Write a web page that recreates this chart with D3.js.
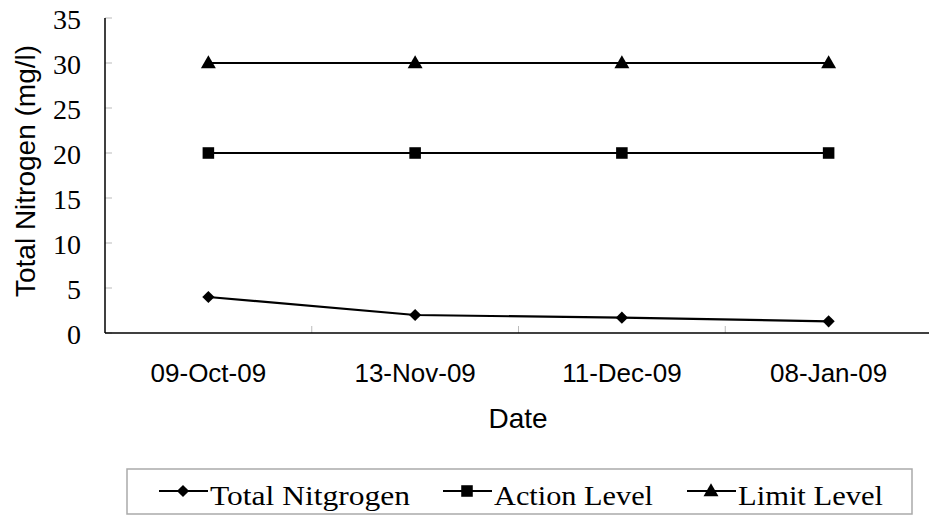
<!DOCTYPE html>
<html>
<head>
    <title>Total Nitrogen</title>
    <script src="https://d3js.org/d3.v7.min.js"></script>
    <style>
        body { margin: 0; padding: 0; background: #fff; }
        svg { display: block; }
        .ytick text { font-family: 'Liberation Serif', 'Times New Roman', serif; font-size: 28px; }
        .xlab { font-family: 'Liberation Sans', Arial, sans-serif; font-size: 26px; }
        .title { font-family: 'Liberation Sans', Arial, sans-serif; font-size: 28px; }
        .legend text { font-family: 'Liberation Serif', serif; font-size: 27px; }
    </style>
</head>
<body>
    <svg id="chart" width="929" height="520"></svg>
    <script>
        // data
        const dates = ["09-Oct-09", "13-Nov-09", "11-Dec-09", "08-Jan-09"];
        const totalNitrogen = [4.0, 2.0, 1.7, 1.3];
        const actionLevel = [20, 20, 20, 20];
        const limitLevel = [30, 30, 30, 30];
        const yTicks = [0, 5, 10, 15, 20, 25, 30, 35];
        const seriesNames = ["Total Nitgrogen", "Action Level", "Limit Level"];

        const svg = d3.select("#chart");
        const pLeft = 105, pRight = 932, pTop = 18, pBottom = 333;

        const x = d3.scaleBand().domain(dates).range([pLeft, pRight]);
        const y = d3.scaleLinear().domain([0, 35]).range([pBottom, pTop]);

        // y ticks (grey, inward) and labels
        const yt = svg.selectAll(".ytick").data(yTicks).enter().append("g").attr("class", "ytick");
        yt.append("line")
            .attr("x1", pLeft).attr("x2", pLeft + 7)
            .attr("y1", d => y(d)).attr("y2", d => y(d))
            .attr("stroke", "#bbb").attr("stroke-width", 1);
        yt.append("text")
            .attr("x", 81).attr("y", d => y(d) + 11)
            .attr("text-anchor", "end")
            .text(d => d);

        // x ticks at category boundaries
        svg.selectAll(".xtick").data(dates.slice(1)).enter().append("line")
            .attr("x1", d => x(d)).attr("x2", d => x(d))
            .attr("y1", pBottom).attr("y2", pBottom - 7)
            .attr("stroke", "#bbb").attr("stroke-width", 1);

        // axes
        svg.append("line").attr("x1", pLeft).attr("x2", pLeft).attr("y1", pTop).attr("y2", pBottom)
            .attr("stroke", "#000").attr("stroke-width", 1.5);
        svg.append("line").attr("x1", pLeft).attr("x2", 929).attr("y1", pBottom).attr("y2", pBottom)
            .attr("stroke", "#000").attr("stroke-width", 1.5);

        // x labels
        svg.selectAll(".xlab").data(dates).enter().append("text")
            .attr("class", "xlab")
            .attr("x", d => x(d) + x.bandwidth() / 2)
            .attr("y", 382)
            .attr("text-anchor", "middle")
            .text(d => d);

        svg.append("text").attr("class", "title")
            .attr("x", 518).attr("y", 428)
            .attr("text-anchor", "middle").text("Date");

        svg.append("text").attr("class", "title")
            .attr("transform", "translate(35,171) rotate(-90)")
            .attr("text-anchor", "middle").text("Total Nitrogen (mg/l)");

        const symbols = [d3.symbolDiamond2, d3.symbolSquare2, d3.symbolTriangle2];
        const sizes = [95, 170, 160];
        const allSeries = [totalNitrogen, actionLevel, limitLevel];

        const line = d3.line()
            .x((d, i) => x(dates[i]) + x.bandwidth() / 2)
            .y(d => y(d));

        allSeries.forEach((s, k) => {
            svg.append("path").datum(s)
                .attr("d", line)
                .attr("fill", "none").attr("stroke", "#000").attr("stroke-width", 2.2);
            svg.selectAll(".pt" + k).data(s).enter().append("path")
                .attr("d", d3.symbol().type(symbols[k]).size(sizes[k]))
                .attr("transform", (d, i) => "translate(" + (x(dates[i]) + x.bandwidth() / 2) + "," + (y(d) + (k == 2 ? 1 : 0)) + ")")
                .attr("fill", "#000");
        });

        // legend
        const lg = svg.append("g").attr("class", "legend");
        lg.append("rect").attr("x", 127).attr("y", 469).attr("width", 785).attr("height", 45)
            .attr("fill", "none").attr("stroke", "#aaa").attr("stroke-width", 1.5);
        const lx = [159, 443, 687];
        const tw = [200, 159, 145];
        seriesNames.forEach((n, k) => {
            lg.append("line").attr("x1", lx[k]).attr("x2", lx[k] + 49).attr("y1", 491).attr("y2", 491)
                .attr("stroke", "#000").attr("stroke-width", 2.2);
            lg.append("path")
                .attr("d", d3.symbol().type(symbols[k]).size(sizes[k]))
                .attr("transform", "translate(" + (lx[k] + 24) + "," + (491 + (k == 2 ? 1 : 0)) + ")")
                .attr("fill", "#000");
            lg.append("text").attr("x", lx[k] + 51).attr("y", 505)
                .attr("textLength", tw[k]).attr("lengthAdjust", "spacingAndGlyphs")
                .text(n);
        });
    </script>
</body>
</html>
